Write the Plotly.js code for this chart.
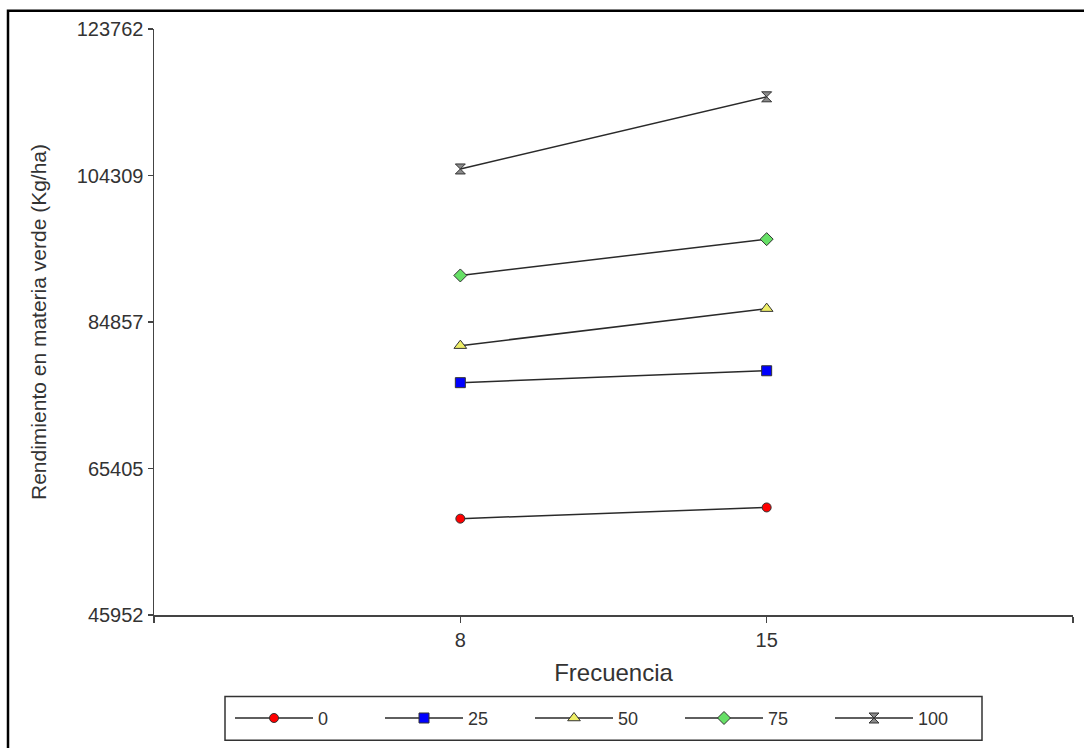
<!DOCTYPE html>
<html>
<head>
<meta charset="utf-8">
<script src="https://cdn.plot.ly/plotly-3.0.1.min.js"></script>
<style>html,body{margin:0;padding:0;background:#fff;}#chart{width:1084px;height:748px;}</style>
</head>
<body>
<div id="chart"></div>
<script>
// Data
const frecuencias = ['8', '15'];
const niveles = ['0', '25', '50', '75', '100'];
const serie0 = [58745, 60234];
const serie25 = [76802, 78383];
const serie50 = [81718, 86634];
const serie75 = [91036, 95860];
const serie100 = [105178, 114760];
const yTickVals = [45952, 65405, 84857, 104309, 123762];
const yTickText = ['45952', '65405', '84857', '104309', '123762'];

const series = [serie0, serie25, serie50, serie75, serie100];
const symbols = ['circle', 'square', 'triangle-up', 'diamond', 'hourglass'];
const fills = ['#ff0000', '#0000ff', '#eeee66', '#66e066', '#8a8a8a'];
const sizes = [9, 10, 11, 10, 10];

const traces = series.map((vals, i) => ({
  type: 'scatter',
  mode: 'lines+markers',
  name: niveles[i],
  x: frecuencias,
  y: vals,
  line: {color: '#2a2a2a', width: 1.5},
  marker: {symbol: symbols[i], color: fills[i], size: sizes[i], line: {color: '#333', width: 1}}
}));

const W = 1084, H = 748;
const L = 154, R = 11, T = 29, B = 129;
const pw = W - L - R, ph = H - T - B;
const px = v => (v - L) / pw;
const py = v => (H - B - v) / ph;

const layout = {
  width: W, height: H,
  margin: {l: L, r: R, t: T, b: B, pad: 0},
  paper_bgcolor: '#fff', plot_bgcolor: '#fff',
  font: {family: 'Liberation Sans, Arial, sans-serif', size: 18, color: '#333'},
  showlegend: true,
  legend: {
    orientation: 'h', x: px(230), xanchor: 'left', y: py(723), yanchor: 'middle',
    borderwidth: 0, bgcolor: 'rgba(0,0,0,0)',
    font: {family: 'Liberation Sans, Arial, sans-serif', size: 18, color: '#333'},
    itemwidth: 78, entrywidth: 57, entrywidthmode: 'pixels', traceorder: 'normal'
  },
  xaxis: {
    type: 'category', range: [-1, 2], fixedrange: true,
    tickmode: 'array', tickvals: [-1, 0, 1, 2], ticktext: [''].concat(frecuencias).concat(['']),
    ticks: 'outside', ticklen: 6, tickwidth: 1.5, tickcolor: '#444',
    showline: true, linecolor: '#444', linewidth: 1.5,
    showgrid: false, zeroline: false,
    tickfont: {size: 20, color: '#333'},
    title: {text: 'Frecuencia', font: {size: 24, color: '#333'}, standoff: 14}
  },
  yaxis: {
    range: [45952, 123762], fixedrange: true,
    tickmode: 'array', tickvals: yTickVals, ticktext: yTickText,
    ticks: 'outside', ticklen: 5, tickwidth: 1.5, tickcolor: '#444',
    showline: true, linecolor: '#444', linewidth: 1.5,
    showgrid: false, zeroline: false,
    tickfont: {size: 20, color: '#333'},
    title: {text: 'Rendimiento en materia verde (Kg/ha)', font: {size: 21, color: '#333'}, standoff: 24}
  },
  shapes: [
    {type: 'rect', xref: 'paper', yref: 'paper', x0: px(225), x1: px(982), y0: py(745), y1: py(701),
     line: {color: '#333', width: 1.5}, fillcolor: 'rgba(0,0,0,0)'},
    {type: 'rect', xref: 'paper', yref: 'paper', x0: px(8), x1: px(1100), y0: py(770), y1: py(10.5),
     line: {color: '#000', width: 2.5}, fillcolor: 'rgba(0,0,0,0)'}
  ]
};

Plotly.newPlot('chart', traces, layout, {staticPlot: true, displayModeBar: false});
</script>
</body>
</html>
